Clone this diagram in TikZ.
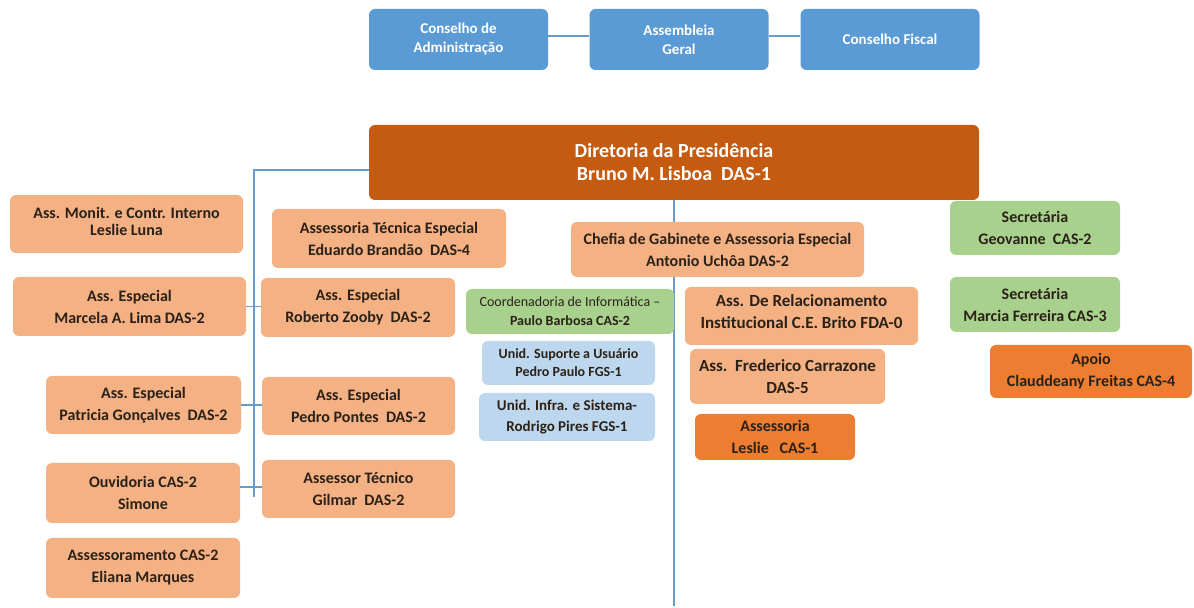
\documentclass[tikz,border=0pt]{standalone}
\usepackage{fontspec}
\setmainfont{Carlito}
\definecolor{salmon}{HTML}{F4B183}
\definecolor{topblue}{HTML}{5B9BD5}
\definecolor{darkor}{HTML}{C55A11}
\definecolor{brightor}{HTML}{ED7D31}
\definecolor{lgreen}{HTML}{A9D18E}
\definecolor{lblue}{HTML}{BDD7EE}
\definecolor{linec}{HTML}{6A9BC8}
\definecolor{txt}{HTML}{2B2118}
\begin{document}
\begin{tikzpicture}[x=0.5pt,y=-0.5pt,
  bx/.style={rounded corners=3pt, align=center, inner sep=1pt, text=txt,
    font=\fontsize{8}{11}\selectfont\bfseries},
  sal/.style={bx, fill=salmon},
  grn/.style={bx, fill=lgreen},
  blu/.style={bx, fill=lblue, font=\fontsize{7}{9}\selectfont\bfseries},
  org/.style={bx, fill=brightor},
  topb/.style={bx, fill=topblue, text=white, minimum width=89.5pt, minimum height=30.5pt,
    font=\fontsize{7.5}{9.5}\selectfont\bfseries},
  conn/.style={draw=linec, line width=0.6pt}]
\useasboundingbox (0,0) rectangle (1194,608);
% top row
\node[topb] (adm) at (458.5,39.5) {Conselho de\\Administração};
\node[topb] (ag) at (679,39.5) {Assembleia\\Geral};
\node[topb] (cf) at (890,39.5) {Conselho Fiscal};
\draw[conn] (adm.east |- 0,36) -- (ag.west |- 0,36);
\draw[conn] (ag.east |- 0,36) -- (cf.west |- 0,36);
% director
\node[bx, fill=darkor, text=white, minimum width=305pt, minimum height=37.5pt,
  font=\fontsize{10}{11.5}\selectfont\bfseries] (dir) at (674,162.5)
  {Diretoria da Presidência\\Bruno M. Lisboa\ \ DAS-1};
% trunks
\coordinate (t1) at (254,170);
\coordinate (t2) at (254,497);
\coordinate (c2) at (674,606);
\draw[conn] (dir.west |- t1) -- (t1) -- (t2);
\draw[conn] (dir.south) -- (c2);
% left column
\node[sal, minimum width=116.5pt, minimum height=29pt, text depth=3pt,
  font=\fontsize{8}{8.5}\selectfont\bfseries] (mon) at (126.5,224)
  {Ass. Monit. e Contr. Interno\\Leslie Luna};
\node[sal, minimum width=116.5pt, minimum height=29.5pt] (mar) at (129.5,306.5)
  {Ass. Especial\\Marcela A. Lima DAS-2};
\node[sal, minimum width=97.5pt, minimum height=29pt] (pat) at (143.5,405)
  {Ass. Especial\\Patricia Gonçalves\ \ DAS-2};
\node[sal, minimum width=97pt, minimum height=30pt] (ouv) at (143,493)
  {Ouvidoria CAS-2\\Simone};
\node[sal, minimum width=97pt, minimum height=30pt] (asm) at (143,568)
  {Assessoramento CAS-2\\Eliana Marques};
% right of trunk
\node[sal, minimum width=117pt, minimum height=29.5pt] (ate) at (389,238.5)
  {Assessoria Técnica Especial\\Eduardo Brandão\ \ DAS-4};
\node[sal, minimum width=97pt, minimum height=29.5pt] (rob) at (358,307.5)
  {Ass. Especial\\Roberto Zooby\ \ DAS-2};
\node[sal, minimum width=96.5pt, minimum height=29pt] (ped) at (358.5,406)
  {Ass. Especial\\Pedro Pontes\ \ DAS-2};
\node[sal, minimum width=96.5pt, minimum height=29pt] (gil) at (358.5,489)
  {Assessor Técnico\\Gilmar\ \ DAS-2};
\draw[conn] (mar.east) -- (rob.west |- mar.east);
\draw[conn] (pat.east) -- (ped.west |- pat.east);
\draw[conn] (gil.west |- 0,487) -- (ouv.east |- 0,487);
% middle
\node[sal, minimum width=146.5pt, minimum height=27.5pt] (che) at (717.5,249.5)
  {Chefia de Gabinete e Assessoria Especial\\Antonio Uchôa DAS-2};
\node[grn, minimum width=104pt, minimum height=22.5pt,
  font=\fontsize{7}{9.5}\selectfont] (coo) at (570,311.5)
  {Coordenadoria de Informática --\\\bfseries Paulo Barbosa CAS-2};
\node[blu, minimum width=86.5pt, minimum height=22pt] (sup) at (568.5,363)
  {Unid. Suporte a Usuário\\Pedro Paulo FGS-1};
\node[blu, minimum width=88pt, minimum height=24pt,
  font=\fontsize{7.5}{10.5}\selectfont\bfseries] (inf) at (567,417)
  {Unid. Infra. e Sistema-\\Rodrigo Pires FGS-1};
\node[sal, minimum width=116.5pt, minimum height=29pt, text depth=4pt,
  font=\fontsize{8.5}{11}\selectfont\bfseries] (rel) at (801.5,316)
  {Ass. De Relacionamento\\Institucional C.E. Brito FDA-0};
\node[sal, minimum width=97.5pt, minimum height=27.5pt,
  font=\fontsize{8.5}{11}\selectfont\bfseries] (fre) at (787.5,376.5)
  {Ass.\ \ Frederico Carrazone\\DAS-5};
\node[org, minimum width=80pt, minimum height=23pt] (les) at (775,437)
  {Assessoria\\Leslie\ \ \ CAS-1};
% right
\node[grn, minimum width=85pt, minimum height=27pt] (geo) at (1035,228)
  {Secretária\\Geovanne\ \ CAS-2};
\node[grn, minimum width=85pt, minimum height=27.5pt] (mfe) at (1035,304.5)
  {Secretária\\Marcia Ferreira CAS-3};
\node[org, minimum width=101pt, minimum height=26.5pt] (apo) at (1091,371.5)
  {Apoio\\Clauddeany Freitas CAS-4};
\end{tikzpicture}
\end{document}
